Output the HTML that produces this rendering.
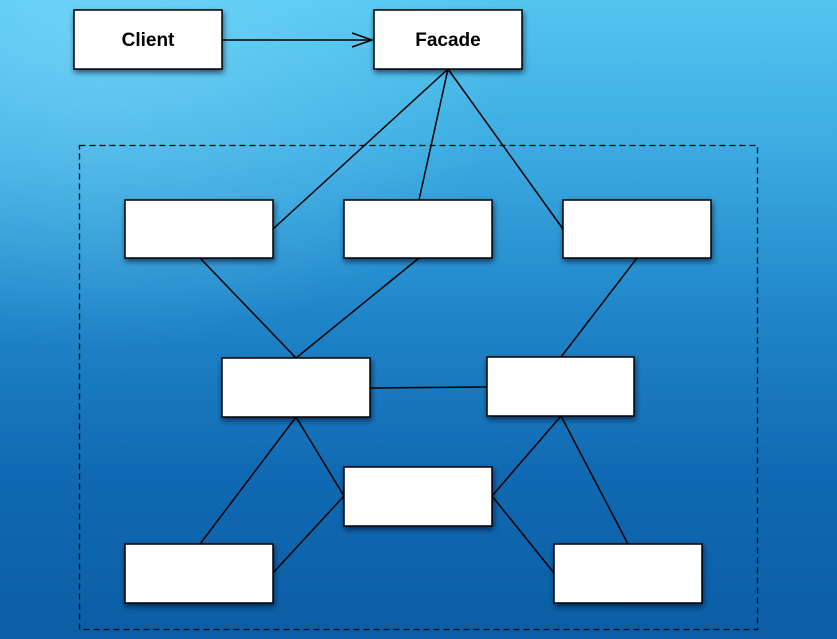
<!DOCTYPE html>
<html><head><style>
html,body{margin:0;padding:0;}
body{width:837px;height:639px;overflow:hidden;background:linear-gradient(180deg,#52c6f0 0%,#3aa9e0 25%,#1f84c8 50%,#1069b2 75%,#0b5ea6 100%);}
svg{display:block}
text{font-family:"Liberation Sans",sans-serif;font-weight:bold;font-size:19px;fill:#000}
</style></head><body>
<svg width="837" height="639" viewBox="0 0 837 639">
<defs>
<radialGradient id="g" cx="0.12" cy="0.05" r="0.5"><stop offset="0" stop-color="#8ae0ff" stop-opacity="0.5"/><stop offset="1" stop-color="#8ae0ff" stop-opacity="0"/></radialGradient>
<filter id="s" x="-20%" y="-20%" width="140%" height="150%"><feDropShadow dx="1" dy="3" stdDeviation="3" flood-color="#002" flood-opacity="0.6"/></filter>
</defs>
<rect width="837" height="639" fill="url(#g)"/>
<rect x="79.5" y="145.5" width="678" height="484" fill="none" stroke="#000" stroke-width="1.3" stroke-dasharray="6,4"/>
<g stroke="#000" stroke-width="1.5" fill="none">
<line x1="222" y1="40" x2="372" y2="40"/>
<polyline points="352,33 372,40 352,47"/>
<line x1="448" y1="69" x2="273" y2="229"/>
<line x1="448" y1="69" x2="419" y2="200"/>
<line x1="448" y1="69" x2="563" y2="229"/>
<line x1="200" y1="258" x2="296" y2="358"/>
<line x1="419" y1="258" x2="296" y2="358"/>
<line x1="637" y1="258" x2="561" y2="357"/>
<line x1="370" y1="388" x2="487" y2="387"/>
<line x1="296" y1="417" x2="200" y2="544"/>
<line x1="296" y1="417" x2="344" y2="496"/>
<line x1="561" y1="416" x2="492" y2="496"/>
<line x1="561" y1="416" x2="628" y2="544"/>
<line x1="344" y1="496" x2="273" y2="573"/>
<line x1="492" y1="496" x2="554" y2="573"/>
</g>
<g fill="#fff" stroke="#000" stroke-width="1.5" filter="url(#s)">
<rect x="74" y="10" width="148" height="59"/>
<rect x="374" y="10" width="148" height="59"/>
<rect x="125" y="200" width="148" height="58"/>
<rect x="344" y="200" width="148" height="58"/>
<rect x="563" y="200" width="148" height="58"/>
<rect x="222" y="358" width="148" height="59"/>
<rect x="487" y="357" width="147" height="59"/>
<rect x="344" y="467" width="148" height="59"/>
<rect x="125" y="544" width="148" height="59"/>
<rect x="554" y="544" width="148" height="59"/>
</g>
<text x="148" y="46" text-anchor="middle">Client</text>
<text x="448" y="46" text-anchor="middle">Facade</text>
</svg>
</body></html>
